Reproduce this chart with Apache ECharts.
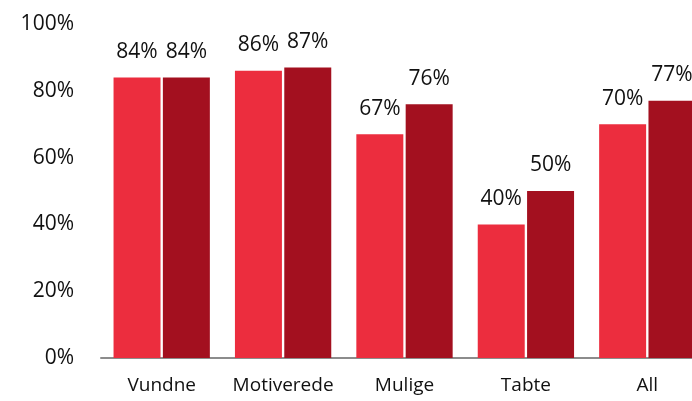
<!DOCTYPE html>
<html>
<head>
    <meta charset="utf-8" />
    <title>Bars</title>
    <script src="https://cdn.jsdelivr.net/npm/echarts@6/dist/echarts.min.js"></script>
    <style>
        html, body { margin: 0; padding: 0; background: #fff; }
        #main { width: 692px; height: 401px; }
    </style>
</head>
<body>
    <div id="main"></div>
    <script type="text/javascript">
        // data
        var categories = ['Vundne', 'Motiverede', 'Mulige', 'Tabte', 'All'];
        var seriesA = [84, 86, 67, 40, 70];
        var seriesB = [84, 87, 76, 50, 77];
        var yTicks = [0, 20, 40, 60, 80, 100];

        var myChart = echarts.init(document.getElementById('main'));

        var font = '"Open Sans", sans-serif';

        var label = {
            show: true,
            position: 'top',
            distance: 15,
            color: '#111',
            fontFamily: font,
            fontSize: 21,
            formatter: '{c}%'
        };

        var option = {
            animation: false,
            grid: {
                left: 101,
                width: 607,   // plot runs past the right edge of the picture
                top: 24,
                bottom: 43,
                containLabel: false,
                outerBoundsMode: 'none'
            },
            xAxis: {
                type: 'category',
                data: categories,
                axisLine: { lineStyle: { color: '#8c8c8c', width: 2 } },
                axisTick: { show: false },
                axisLabel: {
                    interval: 0,
                    hideOverlap: false,
                    color: '#111',
                    fontFamily: font,
                    fontSize: 19,
                    margin: 18
                }
            },
            yAxis: {
                type: 'value',
                min: yTicks[0],
                max: yTicks[yTicks.length - 1],
                interval: 20,
                axisLine: { show: false },
                axisTick: { show: false },
                splitLine: { show: false },
                axisLabel: {
                    color: '#111',
                    fontFamily: font,
                    fontSize: 21,
                    margin: 27,
                    formatter: '{value}%'
                }
            },
            series: [
                {
                    name: 'A',
                    type: 'bar',
                    data: seriesA,
                    barWidth: '38.7%',
                    barGap: '5%',
                    itemStyle: { color: '#ec2d3e' },
                    label: label
                },
                {
                    name: 'B',
                    type: 'bar',
                    data: seriesB,
                    barWidth: '38.7%',
                    itemStyle: { color: '#a3101f' },
                    label: label
                }
            ]
        };

        myChart.setOption(option);
    </script>
</body>
</html>
